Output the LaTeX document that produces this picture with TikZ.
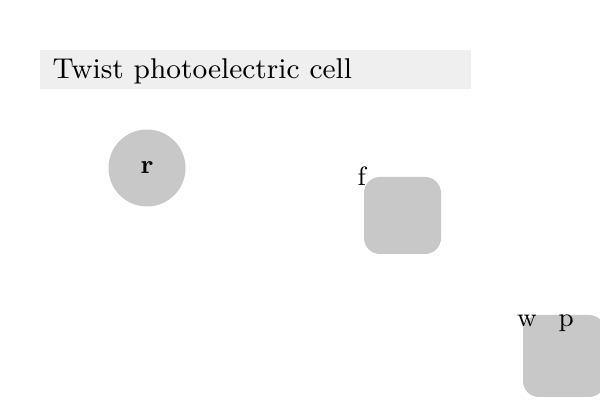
\documentclass[tikz,border=0pt]{standalone}
\definecolor{shapegray}{HTML}{C8C8C8}
\definecolor{titlegray}{HTML}{EFEFEF}
\begin{document}
\begin{tikzpicture}[x=0.5pt,y=-0.5pt,
  txt/.style={font=\fontsize{9pt}{10pt}\selectfont, scale=1.47, transform shape},
  lbl/.style={txt, anchor=base west, inner sep=0pt},
  titletxt/.style={font=\fontsize{9pt}{10pt}\selectfont, scale=1.59, transform shape, anchor=base west, inner sep=0pt},
  circ/.style={circle, fill=shapegray, minimum size=38.5pt, inner sep=0pt},
  rbox/.style={rectangle, rounded corners=8pt, fill=shapegray, inner sep=0pt}]
\useasboundingbox (0,0) rectangle (600,400);
\fill[titlegray] (40,50) rectangle (471,89);
\node[titletxt] (title) at (52,79) {Twist photoelectric cell};
\node[circ] (r) at (147,168) {};
\node[txt, inner sep=0pt] (rlabel) at (r.center) {\bfseries r};
\node[rbox, minimum width=38.5pt, minimum height=38.5pt] (fbox) at (402.5,215.5) {};
\node[lbl] (f) at (357,186) {f};
\node[rbox, minimum width=41pt, minimum height=41pt] (wpbox) at (564,356) {};
\node[lbl] (w) at (516.5,327) {w};
\node[lbl] (p) at (558,327) {p};
\end{tikzpicture}
\end{document}
